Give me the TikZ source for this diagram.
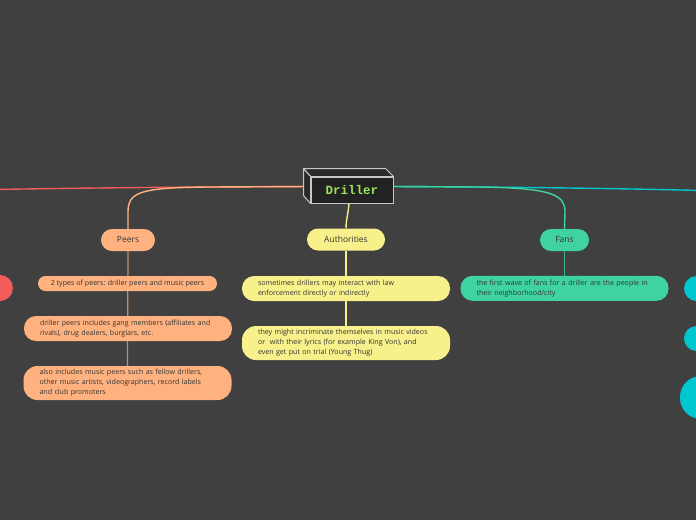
\documentclass[tikz,border=0pt]{standalone}
\usepackage{fontspec}
\setmainfont{Open Sans}
\setmonofont{Liberation Mono}
\definecolor{bgc}{HTML}{404040}
\definecolor{peach}{HTML}{FFB27F}
\definecolor{yel}{HTML}{F8F08A}
\definecolor{mint}{HTML}{3FD3A2}
\definecolor{cyanc}{HTML}{00C6D0}
\definecolor{redc}{HTML}{F45B5B}
\definecolor{tan}{HTML}{C0906E}
\definecolor{txt}{HTML}{333333}
\definecolor{boxfront}{HTML}{222222}
\definecolor{boxside}{HTML}{2A2A2A}
\definecolor{boxedge}{HTML}{C8C8C8}
\definecolor{drillgreen}{HTML}{9BE35A}
\pgfdeclarelayer{bglayer}
\pgfdeclarelayer{edges}
\pgfsetlayers{bglayer,edges,main}
\begin{document}
\begin{tikzpicture}[x=1pt,y=-1pt,
  leaf/.style={rounded corners=12pt, text=txt, font=\fontsize{7.1}{10}\selectfont,
    inner xsep=16pt, inner ysep=0pt, align=left, text width=176pt},
  topic/.style={rounded corners=11pt, minimum height=22pt, text=txt,
    font=\fontsize{8.5}{10}\selectfont, inner xsep=0pt},
  conn/.style={line width=1.4pt},
  sub/.style={line width=1.2pt}]
\begin{pgfonlayer}{bglayer}
\fill[bgc] (0,0) rectangle (696,520);
\end{pgfonlayer}
\useasboundingbox (0,0) rectangle (696,520);

% central node
\node[fill=boxfront, draw=boxedge, line width=1pt, minimum width=82pt, minimum height=26pt,
  font=\ttfamily\bfseries\fontsize{12.5}{12}\selectfont, text=drillgreen] (driller) at (352,190) {Driller};
\filldraw[fill=boxside, draw=boxedge, line width=1pt, line join=round]
  (driller.north west) -- ++(-7,-8) -- ++(82,0) -- (driller.north east) -- cycle;
\filldraw[fill=boxside, draw=boxedge, line width=1pt, line join=round]
  (driller.north west) -- ++(-7,-8) -- ++(0,27) -- (driller.south west) -- cycle;
\coordinate (dl) at ([yshift=3.5pt]driller.west);
\coordinate (dr) at ([yshift=3.5pt]driller.east);

% main topics
\node[topic, fill=peach, minimum width=54pt] (peers) at (128,240) {Peers};
\node[topic, fill=yel, minimum width=78pt] (auth) at (346,239.5) {Authorities};
\node[topic, fill=mint, minimum width=49pt] (fans) at (564.5,240) {Fans};

% off-screen topics
\node[fill=redc, rounded corners=13pt, minimum width=60pt, minimum height=26pt] (r1) at (-17,288) {};
\node[fill=cyanc, rounded corners=12.5pt, minimum width=60pt, minimum height=25pt] (c1) at (714,288.5) {};
\node[fill=cyanc, rounded corners=12.5pt, minimum width=60pt, minimum height=25pt] (c2) at (714,338.5) {};
\node[fill=cyanc, rounded corners=21pt, minimum width=60pt, minimum height=43pt] (c3) at (710,397.5) {};
\coordinate (redend) at (-5,189.5);
\coordinate (cyanend) at (702,190.5);

% leaves
\node[fill=peach, rounded corners=7.5pt, minimum width=179pt, minimum height=15pt, inner sep=0pt,
  text=txt, font=\fontsize{7.1}{10}\selectfont] (p1) at (127.5,283.5) {2 types of peers: driller peers and music peers};
\node[leaf, fill=peach, minimum height=25pt] (p2) at (128,328.5)
  {driller peers includes gang members (affiliates and\\rivals), drug dealers, burglars, etc.};
\node[leaf, fill=peach, minimum height=34pt, rounded corners=14pt] (p3) at (127.5,383)
  {also includes music peers such as fellow drillers,\\other music artists, videographers, record labels\\and club promoters};
\node[leaf, fill=yel, minimum height=25pt] (a1) at (346,288.5)
  {sometimes drillers may interact with law\\enforcement directly or indirectly};
\node[leaf, fill=yel, minimum height=34pt, rounded corners=14pt] (a2) at (346,343)
  {they might incriminate themselves in music videos\\or\ \ with their lyrics (for example King Von), and\\even get put on trial (Young Thug)};
\node[leaf, fill=mint, minimum height=25pt] (f1) at (564.5,288.3)
  {the first wave of fans for a driller are the people in\\their neighborhood/city};

% connectors
\begin{pgfonlayer}{edges}
\draw[conn, redc] (dl) .. controls (150,187) and (50,188.5) .. (redend);
\draw[conn, cyanc] (dr) .. controls (500,187) and (600,188) .. (cyanend);
\draw[conn, peach] (dl) -- (210,187) .. controls (140,187.5) and (128,192) .. (128,212) -- (peers.north);
\draw[conn, mint] (dr) -- (480,187) .. controls (553,188) and (565,195) .. (565,212) -- (fans.north);
\draw[conn, yel] ([xshift=-3pt]driller.south) .. controls (348,215) and (346,220) .. (auth.north);
\draw[sub, tan] (peers.south) -- (p3.north);
\draw[sub, yel] (auth.south) -- (a2.north);
\draw[sub, mint!85!black] (fans.south) -- (f1.north);
\end{pgfonlayer}
\end{tikzpicture}
\end{document}
